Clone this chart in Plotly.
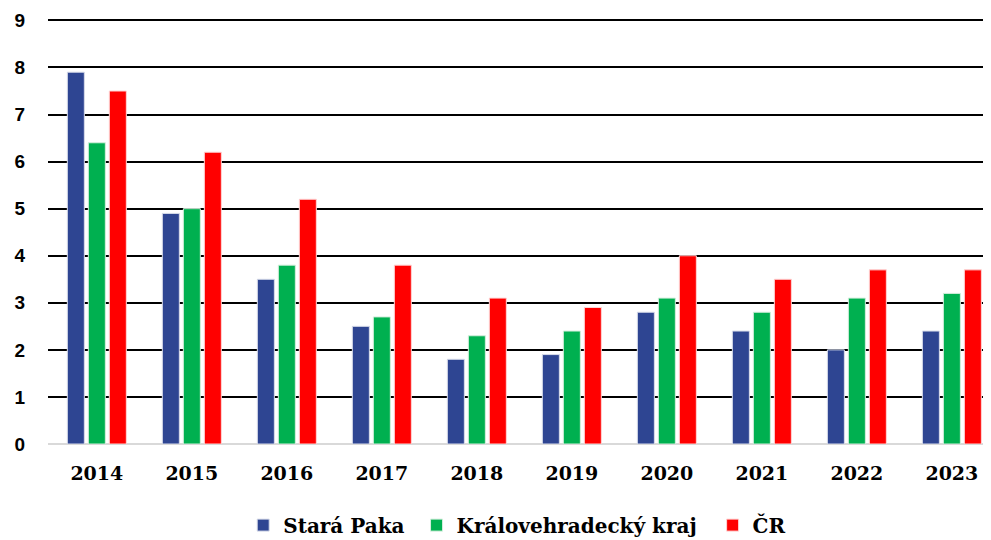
import plotly.graph_objects as go

years = ['2014', '2015', '2016', '2017', '2018', '2019', '2020', '2021', '2022', '2023']
stara_paka = [7.9, 4.9, 3.5, 2.5, 1.8, 1.9, 2.8, 2.4, 2.0, 2.4]
kralovehradecky = [6.4, 5.0, 3.8, 2.7, 2.3, 2.4, 3.1, 2.8, 3.1, 3.2]
cr = [7.5, 6.2, 5.2, 3.8, 3.1, 2.9, 4.0, 3.5, 3.7, 3.7]

fig = go.Figure()
fig.add_trace(go.Bar(x=years, y=stara_paka, name='Stará Paka\u00a0',
                     marker=dict(color='#2E4592', line=dict(color='#D9DDEA', width=1))))
fig.add_trace(go.Bar(x=years, y=kralovehradecky, name='Královehradecký kraj\u00a0\u2009',
                     marker=dict(color='#00B050', line=dict(color='#D5EEDD', width=1))))
fig.add_trace(go.Bar(x=years, y=cr, name='ČR',
                     marker=dict(color='#FF0000', line=dict(color='#FFD5D5', width=1))))

# page body has an 8px margin, so the figure is a bit smaller than the window
fig.update_layout(
	width=983, height=532,
	margin=dict(l=40, r=0, t=11, b=96, autoexpand=False),
	plot_bgcolor='white', paper_bgcolor='white',
	barmode='group', bargap=0.337, bargroupgap=0.19,
	showlegend=True,
	legend=dict(orientation='h', x=0.518, xanchor='center', xref='container',
				y=0.028, yanchor='middle', yref='container',
				font=dict(family='DejaVu Serif', size=20, color='black', weight='bold'),
				itemwidth=30, traceorder='normal'),
	xaxis=dict(range=[-0.514, 9.412],
			   tickfont=dict(family='DejaVu Serif', size=19, color='black', weight='bold'),
			   showgrid=False, ticks='', showline=False, ticklabelstandoff=16),
	yaxis=dict(range=[0, 9.03], dtick=1, showgrid=True, gridcolor='black', gridwidth=2,
			   zeroline=True, zerolinecolor='#D9D9D9', zerolinewidth=2,
			   tickfont=dict(family='Liberation Sans', size=19, color='black', weight='bold'),
			   ticklabelstandoff=22),
)

fig.write_html("out.html")
